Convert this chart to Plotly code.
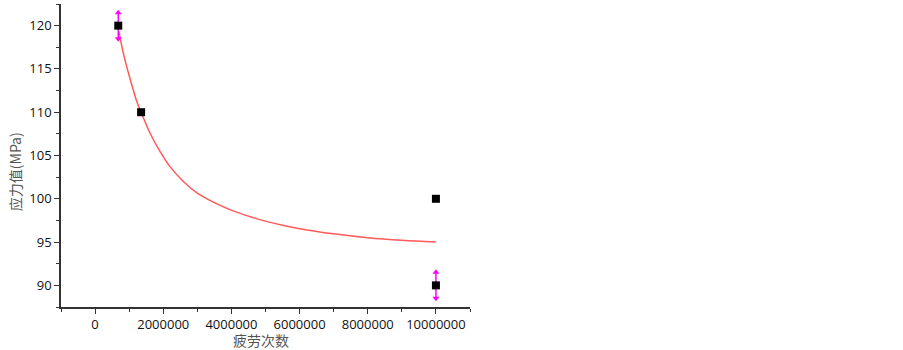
import plotly.graph_objects as go

# Measured data points
pt_x = [680000, 1350000, 10000000, 10000000]
pt_y = [120, 110, 100, 90]
err_y = [1.5, 0, 0, 1.5]

# Fitted curve
fit_x = [700000, 830000, 1030000, 1220000, 1350000, 1610000, 1900000, 2180000,
         2590000, 3000000, 3500000, 4050000, 4790000, 5500000, 6000000, 7000000,
         8000000, 9000000, 10000000]
fit_y = [119.3, 116.8, 113.8, 111.3, 110.0, 107.6, 105.5, 103.8,
         102.0, 100.65, 99.55, 98.6, 97.65, 96.95, 96.55, 95.95,
         95.5, 95.2, 95.0]

x_ticks = [0, 2000000, 4000000, 6000000, 8000000, 10000000]
y_ticks = [90, 95, 100, 105, 110, 115, 120]

fig = go.Figure()

fig.add_trace(go.Scatter(x=fit_x, y=fit_y, mode="lines",
                         line=dict(color="#ff5a5a", width=1.5, shape="spline", smoothing=1),
                         hoverinfo="skip", showlegend=False))

# error bars (magenta) with arrow heads
ex = [x for x, e in zip(pt_x, err_y) if e > 0]
ey = [y for y, e in zip(pt_y, err_y) if e > 0]
ee = [e for e in err_y if e > 0]
for x, y, e in zip(ex, ey, ee):
    fig.add_trace(go.Scatter(x=[x, x], y=[y - e, y + e], mode="lines",
                             line=dict(color="#ff00ff", width=1.5),
                             showlegend=False, hoverinfo="skip"))
    fig.add_trace(go.Scatter(x=[x, x], y=[y + e, y - e], mode="markers",
                             marker=dict(symbol=["triangle-up", "triangle-down"],
                                         size=6, color="#ff00ff"),
                             showlegend=False, hoverinfo="skip"))

fig.add_trace(go.Scatter(x=pt_x, y=pt_y, mode="markers",
                         marker=dict(symbol="square", size=8, color="black"),
                         showlegend=False))

axis_common = dict(showgrid=False, zeroline=False, showline=True, automargin=False,
                   linecolor="#333333", linewidth=1.5, ticks="outside",
                   ticklen=5, tickwidth=1, tickcolor="#333333",
                   tickfont=dict(family="Open Sans, Liberation Sans", size=13, color="#111111"),
                   minor=dict(ticks="outside", ticklen=3, tickcolor="#333333"))

fig.update_xaxes(range=[-1000000, 11000000], tickmode="array", tickvals=x_ticks,
                 ticktext=[str(v) for v in x_ticks], **axis_common)
fig.update_xaxes(minor=dict(dtick=1000000, tick0=-1000000))
fig.update_yaxes(range=[87.5, 122.5], tickmode="array", tickvals=y_ticks, **axis_common)
fig.update_yaxes(minor=dict(dtick=2.5, tick0=87.5))

title_font = dict(family="Noto Sans CJK SC", size=14, color="#555555")
fig.add_annotation(text="疲劳次数", xref="paper", yref="paper", x=0.49, y=0,
                   xanchor="center", yanchor="middle", yshift=-33,
                   showarrow=False, font=title_font)
fig.add_annotation(text="应力值(MPa)", xref="paper", yref="paper", x=0, y=0.445,
                   xanchor="center", yanchor="middle", xshift=-46, textangle=-90,
                   showarrow=False, font=title_font)

fig.update_layout(width=903, height=350,
                  margin=dict(l=61, r=433, t=4, b=43),
                  plot_bgcolor="white", paper_bgcolor="white")

fig.write_html("out.html", config={"displayModeBar": False},
               post_script="document.body.style.margin='0';")
